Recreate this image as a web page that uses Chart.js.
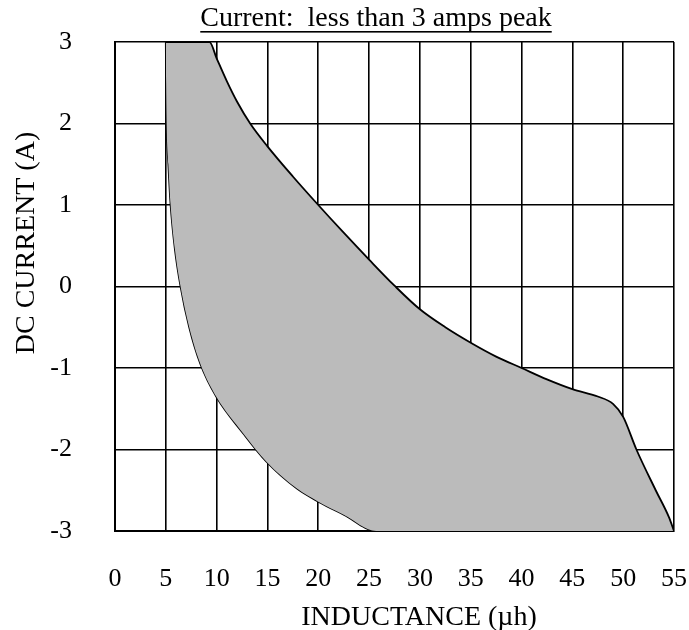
<!DOCTYPE html>
<html>
<head>
<meta charset="utf-8">
<script src="https://cdn.jsdelivr.net/npm/chart.js@4.4.0/dist/chart.umd.min.js"></script>
<style>
  html, body { margin: 0; padding: 0; background: #fff; }
  #wrap { width: 689px; height: 630px; }
</style>
</head>
<body>
<div id="wrap"><canvas id="chart"></canvas></div>
<script>
// tick labels
const xTicks = [0, 5, 10, 15, 20, 25, 30, 35, 40, 45, 50, 55];
const yTicks = [-3, -2, -1, 0, 1, 2, 3];

// upper / right boundary of the shaded band
const upperX = [5, 9.3, 10, 11, 12, 13.3, 15, 17.5, 20, 22.5, 25, 27.5, 30, 32.5, 35, 37.5, 40, 42.5, 45, 47.5, 49, 50, 51.3, 53.2, 54.5, 55];
const upperY = [3, 3, 2.8, 2.52, 2.27, 2, 1.72, 1.35, 1, 0.66, 0.33, 0.01, -0.28, -0.5, -0.69, -0.86, -1, -1.14, -1.26, -1.35, -1.44, -1.6, -2, -2.5, -2.83, -3];

// lower / left boundary of the shaded band
const lowerX = [5, 5.03, 5.08, 5.25, 5.47, 5.9, 6.45, 7.3, 8.4, 10, 12.6, 14.9, 17.9, 20, 22.5, 25.7, 55];
const lowerY = [3, 2.5, 2, 1.5, 1, 0.45, 0, -0.5, -0.95, -1.36, -1.8, -2.15, -2.48, -2.64, -2.8, -3, -3];

const titleText = 'Current:  less than 3 amps peak';
const xTitle = 'INDUCTANCE (\u00b5h)';
const yTitle = 'DC CURRENT (A)';

const serif = '"Liberation Serif", "Times New Roman", serif';

function toPoints(xs, ys) {
    return xs.map((x, i) => ({ x: x, y: ys[i] }));
}

// keep the plot box where the original has it
function noPadding(s) {
    s.paddingTop = 0;
    s.paddingBottom = 0;
    s.paddingLeft = 0;
    s.paddingRight = 0;
}

// titles drawn by hand (positions in the original are off-centre)
const textPlugin = {
    id: 'hardTitles',
    afterDraw(chart) {
        const ctx = chart.ctx;
        ctx.save();
        ctx.fillStyle = '#000';
        ctx.textAlign = 'center';
        ctx.textBaseline = 'alphabetic';

        ctx.font = '28px ' + serif;
        ctx.fillText(titleText, 376, 26);
        const w = ctx.measureText(titleText).width;
        ctx.fillRect(376 - w / 2, 31, w, 1.6);

        ctx.fillText(xTitle, 419, 625);

        ctx.translate(34, 243);
        ctx.rotate(-Math.PI / 2);
        ctx.fillText(yTitle, 0, 0);
        ctx.restore();
    }
};

const ctx = document.getElementById('chart').getContext('2d');
new Chart(ctx, {
    type: 'scatter',
    data: {
        datasets: [{
            label: 'upper',
            data: toPoints(upperX, upperY),
            showLine: true,
            borderColor: '#000',
            borderWidth: 1.8,
            pointRadius: 0,
            cubicInterpolationMode: 'monotone',
            backgroundColor: '#bbbbbb',
            fill: '+1'
        }, {
            label: 'lower',
            data: toPoints(lowerX, lowerY),
            showLine: true,
            borderColor: '#000',
            borderWidth: 1.8,
            pointRadius: 0,
            cubicInterpolationMode: 'monotone',
            fill: false
        }]
    },
    options: {
        responsive: true,
        maintainAspectRatio: false,
        animation: false,
        layout: { padding: { top: 42, right: 15, bottom: 0, left: 0 } },
        plugins: {
            legend: { display: false },
            tooltip: { enabled: false },
            title: { display: false }
        },
        scales: {
            x: {
                type: 'linear',
                position: 'bottom',
                min: 0,
                max: 55,
                z: 1,
                afterBuildTicks: s => { s.ticks = xTicks.map(v => ({ value: v })); },
                afterFit: s => { s.height = 99; noPadding(s); },
                ticks: {
                    color: '#000',
                    font: { family: serif, size: 26 },
                    padding: 33,
                    autoSkip: false,
                    maxRotation: 0
                },
                grid: { color: '#000', lineWidth: 1.6, drawTicks: false },
                border: { color: '#000', width: 2 }
            },
            y: {
                type: 'linear',
                min: -3,
                max: 3,
                z: 1,
                afterBuildTicks: s => { s.ticks = yTicks.map(v => ({ value: v })); },
                afterFit: s => { s.width = 115; noPadding(s); },
                ticks: {
                    color: '#000',
                    font: { family: serif, size: 26 },
                    padding: 43
                },
                grid: { color: '#000', lineWidth: 1.6, drawTicks: false },
                border: { color: '#000', width: 2 }
            }
        }
    },
    plugins: [textPlugin]
});
</script>
</body>
</html>
